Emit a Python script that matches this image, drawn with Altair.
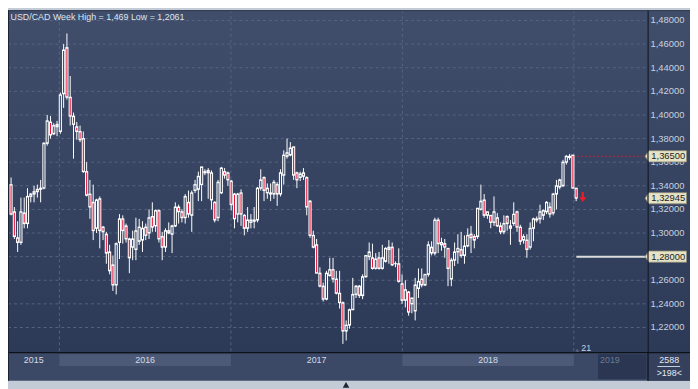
import altair as alt
import pandas as pd
import numpy as np

# ---------------- data ----------------
opens = [1.341,1.318,1.296,1.292,1.317,1.308,1.331,1.333,1.335,1.337,
         1.338,1.376,1.394,1.384,1.390,1.386,1.418,1.457,1.415,1.399,
         1.390,1.386,1.380,1.352,1.333,1.326,1.304,1.329,1.305,1.299,
         1.284,1.273,1.256,1.292,1.312,1.306,1.295,1.288,1.286,1.293,
         1.294,1.305,1.300,1.314,1.306,1.319,1.297,1.288,1.300,1.299,
         1.306,1.322,1.318,1.313,1.326,1.315,1.336,1.337,1.341,1.352,
         1.353,1.351,1.326,1.313,1.334,1.352,1.351,1.344,1.333,1.316,
         1.334,1.315,1.304,1.309,1.310,1.311,1.338,1.347,1.334,1.334,
         1.333,1.341,1.333,1.349,1.365,1.366,1.373,1.351,1.347,1.351,
         1.347,1.327,1.298,1.290,1.266,1.255,1.244,1.264,1.269,1.261,
         1.249,1.241,1.217,1.222,1.235,1.248,1.255,1.247,1.263,1.280,
         1.279,1.270,1.279,1.270,1.276,1.286,1.288,1.274,1.274,1.257,
         1.243,1.250,1.240,1.234,1.253,1.261,1.256,1.265,1.288,1.283,
         1.311,1.290,1.291,1.287,1.261,1.277,1.284,1.286,1.281,1.289,
         1.299,1.297,1.297,1.320,1.328,1.315,1.315,1.309,1.313,1.306,
         1.301,1.314,1.306,1.308,1.318,1.305,1.294,1.294,1.288,1.304,
         1.311,1.312,1.315,1.318,1.322,1.317,1.333,1.339,1.340,1.360,
         1.364,1.366,1.338]
highs = [1.347,1.322,1.310,1.330,1.330,1.338,1.334,1.340,1.341,1.345,
         1.377,1.400,1.399,1.393,1.395,1.419,1.460,1.469,1.433,1.402,
         1.394,1.391,1.386,1.360,1.345,1.341,1.329,1.331,1.306,1.301,
         1.290,1.281,1.292,1.316,1.315,1.308,1.296,1.302,1.313,1.312,
         1.310,1.308,1.320,1.326,1.320,1.320,1.301,1.304,1.309,1.307,
         1.326,1.324,1.320,1.333,1.336,1.336,1.345,1.352,1.356,1.354,
         1.355,1.353,1.327,1.345,1.356,1.355,1.352,1.345,1.334,1.334,
         1.337,1.316,1.322,1.316,1.322,1.339,1.354,1.348,1.342,1.342,
         1.345,1.343,1.354,1.370,1.380,1.377,1.373,1.352,1.352,1.355,
         1.348,1.328,1.302,1.295,1.271,1.258,1.268,1.279,1.279,1.268,
         1.268,1.242,1.226,1.236,1.262,1.256,1.256,1.265,1.281,1.292,
         1.291,1.283,1.284,1.290,1.288,1.294,1.292,1.276,1.287,1.265,
         1.260,1.251,1.245,1.262,1.270,1.270,1.265,1.293,1.293,1.313,
         1.313,1.296,1.295,1.287,1.279,1.292,1.299,1.301,1.298,1.304,
         1.306,1.299,1.321,1.341,1.333,1.318,1.315,1.331,1.317,1.309,
         1.315,1.315,1.311,1.326,1.319,1.307,1.299,1.299,1.309,1.313,
         1.314,1.324,1.320,1.327,1.326,1.334,1.345,1.346,1.362,1.366,
         1.367,1.366,1.338]
lows = [1.315,1.295,1.284,1.290,1.304,1.304,1.326,1.326,1.330,1.326,
        1.337,1.374,1.380,1.383,1.382,1.384,1.406,1.413,1.391,1.363,
        1.379,1.377,1.351,1.331,1.312,1.294,1.300,1.287,1.294,1.274,
        1.265,1.251,1.248,1.278,1.291,1.292,1.266,1.277,1.277,1.290,
        1.284,1.294,1.295,1.301,1.301,1.292,1.277,1.284,1.299,1.283,
        1.305,1.308,1.309,1.308,1.313,1.301,1.334,1.327,1.327,1.349,
        1.329,1.320,1.309,1.310,1.333,1.346,1.340,1.319,1.304,1.309,
        1.306,1.298,1.301,1.304,1.304,1.309,1.336,1.327,1.329,1.327,
        1.329,1.323,1.331,1.341,1.363,1.365,1.345,1.338,1.344,1.345,
        1.315,1.296,1.287,1.266,1.254,1.242,1.243,1.263,1.258,1.248,
        1.236,1.2061,1.209,1.219,1.235,1.245,1.245,1.244,1.262,1.277,
        1.269,1.269,1.269,1.269,1.275,1.274,1.272,1.271,1.258,1.240,
        1.237,1.230,1.232,1.226,1.245,1.254,1.255,1.263,1.281,1.281,
        1.283,1.285,1.279,1.255,1.255,1.272,1.274,1.279,1.274,1.288,
        1.283,1.287,1.295,1.319,1.313,1.312,1.304,1.306,1.305,1.299,
        1.299,1.302,1.290,1.306,1.301,1.290,1.291,1.279,1.286,1.293,
        1.309,1.308,1.311,1.316,1.313,1.315,1.320,1.337,1.339,1.358,
        1.362,1.338,1.327]
closes = [1.316,1.297,1.292,1.318,1.308,1.331,1.333,1.335,1.337,1.338,
          1.376,1.395,1.383,1.391,1.392,1.417,1.455,1.415,1.399,1.392,
          1.386,1.379,1.352,1.332,1.322,1.302,1.328,1.302,1.301,1.283,
          1.268,1.256,1.291,1.312,1.302,1.295,1.279,1.295,1.302,1.305,
          1.304,1.298,1.313,1.305,1.319,1.295,1.288,1.302,1.302,1.306,
          1.322,1.318,1.313,1.331,1.316,1.334,1.341,1.348,1.356,1.351,
          1.351,1.328,1.311,1.343,1.355,1.349,1.345,1.324,1.312,1.333,
          1.316,1.304,1.311,1.311,1.311,1.338,1.345,1.336,1.338,1.333,
          1.343,1.333,1.351,1.366,1.368,1.372,1.349,1.345,1.350,1.348,
          1.322,1.298,1.288,1.266,1.255,1.244,1.266,1.269,1.261,1.249,
          1.241,1.217,1.222,1.235,1.248,1.255,1.247,1.263,1.281,1.284,
          1.270,1.278,1.270,1.279,1.287,1.288,1.273,1.274,1.259,1.243,
          1.252,1.233,1.245,1.256,1.259,1.256,1.265,1.290,1.283,1.311,
          1.291,1.292,1.288,1.270,1.277,1.284,1.287,1.281,1.289,1.298,
          1.296,1.294,1.321,1.327,1.315,1.318,1.309,1.318,1.306,1.301,
          1.308,1.308,1.304,1.316,1.305,1.293,1.297,1.286,1.304,1.312,
          1.312,1.318,1.319,1.326,1.316,1.333,1.340,1.345,1.360,1.365,
          1.365,1.338,1.3295]

price_ticks = [1.48, 1.46, 1.44, 1.42, 1.40, 1.38, 1.36, 1.34, 1.32, 1.30, 1.28, 1.26, 1.24, 1.22]
tick_labels = ["1,48000", "1,46000", "1,44000", "1,42000", "1,40000", "1,38000", "1,36000",
               "1,34000", "1,32000", "1,30000", "1,28000", "1,26000", "1,24000", "1,22000"]
year_names = ["2015", "2016", "2017", "2018"]
year_bounds = [-0.93, 14.71, 66.91, 119.10, 171.30]   # week-index positions of year starts
tag_values = [1.365, 1.32945, 1.28]
tag_texts = ["1,36500", "1,32945", "1,28000"]
title_text = "USD/CAD Week High = 1,469 Low = 1,2061"

# ---------------- layout ----------------
W, H = 690, 381
PR, PB, BB = 647, 346, 375
RED = "#e3163a"
BODY_BG = "#34415e"
FONT = "Liberation Sans"

xs = alt.Scale(domain=[-0.9326, 206.65], nice=False, zero=False)
ys = alt.Scale(domain=[1.16977, 1.48871], nice=False, zero=False)

n = len(closes)
df = pd.DataFrame({"idx": np.arange(n), "open": opens, "high": highs, "low": lows, "close": closes})
df["top"] = df[["open", "close"]].max(axis=1)
df["bot"] = df[["open", "close"]].min(axis=1)
df["fill"] = np.where(df["close"] < df["open"], RED, BODY_BG)
inner = df[(df["top"] - df["bot"]) * 1194.6 > 2.2]

one = pd.DataFrame({"a": [0]})
grad = alt.Gradient(gradient="linear",
                    stops=[alt.GradientStop(color="#404e6c", offset=0),
                           alt.GradientStop(color="#2c3957", offset=1)],
                    x1=0, x2=0, y1=0, y2=1)

def px_rect(x1, x2, y1, y2, color, data=one):
    return alt.Chart(data).mark_rect(color=color).encode(
        x=alt.value(x1), x2=alt.value(x2), y=alt.value(y1), y2=alt.value(y2))

bg_plot = px_rect(0, PR, 0, PB, grad)
bg_right = px_rect(PR, W, 0, PB, grad)
band = px_rect(0, W, PB, BB, "#3c4966")

bands_df = pd.DataFrame({"s": [year_bounds[1], year_bounds[3]], "e": [year_bounds[2], year_bounds[4]]})
band_light = alt.Chart(bands_df).mark_rect(color="#4d5a77").encode(
    x=alt.X("s:Q", scale=xs, axis=None), x2="e:Q", y=alt.value(PB + 2), y2=alt.value(PB + 14))
box2019 = px_rect(597, 646, PB + 2, BB - 2, "#2b3752")
box_rb = px_rect(PR, W, PB, BB, "#34405c")

grid_df = pd.DataFrame({"v": price_ticks, "label": tick_labels})
hgrid = alt.Chart(grid_df).mark_rule(color="#56647f", strokeDash=[3, 3], strokeWidth=1).encode(
    y=alt.Y("v:Q", scale=ys, axis=None), x=alt.value(0), x2=alt.value(PR))
vgrid = alt.Chart(pd.DataFrame({"b": year_bounds[1:]})).mark_rule(
    color="#56647f", strokeDash=[3, 3], strokeWidth=1).encode(
    x=alt.X("b:Q", scale=xs, axis=None), y=alt.value(0), y2=alt.value(PB))

sep_v = alt.Chart(one).mark_rule(color="#0d1118", strokeWidth=1.2).encode(
    x=alt.value(PR + 0.5), y=alt.value(0), y2=alt.value(BB))
sep_h = alt.Chart(one).mark_rule(color="#0d1118", strokeWidth=1.2).encode(
    y=alt.value(PB + 0.5), x=alt.value(0), x2=alt.value(W))
edge_l = alt.Chart(one).mark_rule(color="#1c2332", strokeWidth=1).encode(
    x=alt.value(0.5), y=alt.value(0), y2=alt.value(BB))
edge_t = alt.Chart(one).mark_rule(color="#2a3447", strokeWidth=1).encode(
    y=alt.value(0.5), x=alt.value(0), x2=alt.value(W))

wicks = alt.Chart(df).mark_rule(color="white", strokeWidth=1).encode(
    x=alt.X("idx:Q", scale=xs, axis=None),
    y=alt.Y("low:Q", scale=ys, axis=None), y2="high:Q")
bodies = alt.Chart(df).mark_rect(color="white", xOffset=-1.6, x2Offset=1.6, yOffset=-0.5, y2Offset=0.5).encode(
    x=alt.X("idx:Q", scale=xs, axis=None), x2="idx:Q",
    y=alt.Y("top:Q", scale=ys, axis=None), y2="bot:Q")
fills = alt.Chart(inner).mark_rect(xOffset=-0.55, x2Offset=0.55, yOffset=1, y2Offset=-1).encode(
    x=alt.X("idx:Q", scale=xs, axis=None), x2="idx:Q",
    y=alt.Y("top:Q", scale=ys, axis=None), y2="bot:Q",
    color=alt.Color("fill:N", scale=None))

hi_line = alt.Chart(pd.DataFrame({"v": [tag_values[0]]})).mark_rule(
    color="#c0283a", strokeDash=[2, 2], strokeWidth=1).encode(
    y=alt.Y("v:Q", scale=ys, axis=None), x=alt.value(572), x2=alt.value(PR))
lvl_line = alt.Chart(pd.DataFrame({"v": [tag_values[2]]})).mark_rule(
    color="#dcdcdc", strokeWidth=2).encode(
    y=alt.Y("v:Q", scale=ys, axis=None), x=alt.value(575), x2=alt.value(PR))

axis_labels = alt.Chart(grid_df).mark_text(
    align="left", baseline="middle", font=FONT, fontSize=9.5, color="#c9d1de").encode(
    x=alt.value(650), y=alt.Y("v:Q", scale=ys, axis=None), text="label:N")

tag_df = pd.DataFrame({"v": tag_values, "t": tag_texts})
TAG_SHAPE = "M -1 0 L -0.82 -0.27 L 1 -0.27 L 1 0.27 L -0.82 0.27 Z"
tags = alt.Chart(tag_df).mark_point(shape=TAG_SHAPE, filled=True, size=42 * 42,
                                    color="#e6e2c6", stroke="#8d8a74", strokeWidth=0.8, opacity=1).encode(
    x=alt.value(665.5), y=alt.Y("v:Q", scale=ys, axis=None))
tag_text = alt.Chart(tag_df).mark_text(align="center", baseline="middle", font=FONT,
                                       fontSize=9.5, color="#1d1d1d").encode(
    x=alt.value(668), y=alt.Y("v:Q", scale=ys, axis=None), text="t:N")

title = alt.Chart(one).mark_text(align="left", baseline="alphabetic", font=FONT, fontSize=9,
                                 color="#dfe5ee", text=title_text).encode(
    x=alt.value(2.5), y=alt.value(9.5))

ylab_df = pd.DataFrame({"name": year_names,
                        "mid": [(year_bounds[i] + year_bounds[i + 1]) / 2 for i in range(4)]})
year_text = alt.Chart(ylab_df).mark_text(align="center", baseline="middle", font=FONT,
                                         fontSize=9, color="#d3dae8").encode(
    x=alt.X("mid:Q", scale=xs, axis=None), y=alt.value(PB + 8), text="name:N")
y2019 = alt.Chart(one).mark_text(align="center", baseline="middle", font=FONT, fontSize=9,
                                 color="#6c7a95", text="2019").encode(x=alt.value(609), y=alt.value(PB + 8))

lbl21 = alt.Chart(one).mark_text(align="center", baseline="middle", font=FONT, fontSize=9,
                                 color="#c9d1de", text="21").encode(x=alt.value(585), y=alt.value(PB - 4))
tri21 = alt.Chart(one).mark_point(shape="triangle-up", filled=True, size=14, color="#6d7890").encode(
    x=alt.value(576), y=alt.value(PB - 2))

ARROW = "M -0.22 -1 L 0.22 -1 L 0.22 0.05 L 0.72 0.05 L 0 1 L -0.72 0.05 L -0.22 0.05 Z"
arrow = alt.Chart(one).mark_point(shape=ARROW, filled=True, size=100, color="#ee1c24", opacity=1).encode(
    x=alt.value(581.5), y=alt.value(189))

t2588 = alt.Chart(one).mark_text(align="center", baseline="middle", font=FONT, fontSize=9,
                                 color="#e4e9f1", text="2588").encode(x=alt.value(669), y=alt.value(PB + 8))
line2588 = alt.Chart(one).mark_rule(color="#c9d1de", strokeWidth=1).encode(
    x=alt.value(657), x2=alt.value(680), y=alt.value(PB + 14.5))
t198 = alt.Chart(one).mark_text(align="center", baseline="middle", font=FONT, fontSize=9,
                                color="#e4e9f1", text=">198<").encode(x=alt.value(669), y=alt.value(PB + 21))

bottom_tri = alt.Chart(one).mark_point(shape="triangle-up", filled=True, size=45, color="#1f2633", opacity=1).encode(
    x=alt.value(342), y=alt.value(379))

chart = alt.layer(
    bg_plot, bg_right, band, band_light, box2019, box_rb,
    hgrid, vgrid, hi_line, lvl_line,
    wicks, bodies, fills,
    axis_labels, tags, tag_text,
    sep_v, sep_h, edge_l, edge_t,
    title, year_text, y2019, lbl21, tri21, arrow,
    t2588, line2588, t198, bottom_tri,
).properties(width=W, height=H, background="#c3cbd7", padding=0,
             autosize=alt.AutoSizeParams(type="none")
).configure_view(stroke=None)

chart.save("out.html", embed_options={"renderer": "svg", "actions": False})
